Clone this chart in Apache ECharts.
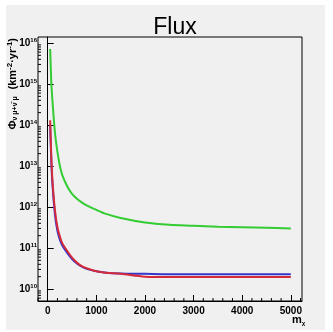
<!DOCTYPE html>
<html>
<head>
<meta charset="utf-8">
<script src="https://cdn.jsdelivr.net/npm/echarts@6/dist/echarts.min.js"></script>
<style>
  html, body { margin: 0; padding: 0; background: #fff; }
  #chart { width: 333px; height: 332px; }
</style>
</head>
<body>
<div id="chart"></div>
<script>
// masses (x) and fluxes
const masses = [50, 75, 100, 150, 200, 250, 300, 400, 500, 600, 700, 800, 1000, 1200, 1500, 2000, 2500, 3000, 3500, 4000, 4500, 5000]
const fluxGreen = [7.1e15, 1.0e15, 3.5e14, 6.3e13, 2.2e13, 1.0e13, 6.0e12, 3.2e12, 2.1e12, 1.6e12, 1.3e12, 1.1e12, 8.5e11, 6.8e11, 5.4e11, 4.2e11, 3.7e11, 3.5e11, 3.3e11, 3.2e11, 3.1e11, 3.0e11]
const fluxBlue = [1.0e14, 1.2e13, 3.2e12, 6.3e11, 2.6e11, 1.6e11, 1.15e11, 7.6e10, 5.4e10, 4.2e10, 3.5e10, 3.1e10, 2.7e10, 2.5e10, 2.4e10, 2.35e10, 2.3e10, 2.3e10, 2.3e10, 2.3e10, 2.3e10, 2.3e10]
const fluxRed = [1.3e14, 1.5e13, 4.0e12, 8.0e11, 3.2e11, 1.9e11, 1.3e11, 8.5e10, 5.8e10, 4.4e10, 3.6e10, 3.2e10, 2.7e10, 2.5e10, 2.35e10, 2.0e10, 1.95e10, 1.95e10, 1.95e10, 1.95e10, 1.95e10, 1.95e10]
const xTicks = [0, 1000, 2000, 3000, 4000, 5000]
const decades = [9, 10, 11, 12, 13, 14, 15]

const X_MIN = -200
const X_MAX = 5230
const Y_MIN = 5.1e9
const Y_MAX = 1.4e16
const FONT = "'Liberation Sans', Arial, sans-serif"

const pairs = (ys) => masses.map((m, i) => [m, ys[i]])

// minor ticks 2..9 x 10^n on the log axis
const yMinor = []
decades.forEach(d => {
  for (let k = 2; k <= 9; k++) {
    const v = k * Math.pow(10, d)
    if (v > Y_MIN && v < Y_MAX) yMinor.push([X_MIN, v])
  }
})
// minor ticks every 200 on the x axis
const xMinor = []
for (let m = -200; m <= 5200; m += 200) {
  if (m % 1000 !== 0) xMinor.push([m, Y_MIN])
}

const tickSeries = (name, data, dx, dy) => ({
  name, type: 'custom', silent: true, data,
  renderItem: (params, api) => {
    const p = api.coord([api.value(0), api.value(1)])
    return {
      type: 'line',
      shape: { x1: p[0], y1: p[1], x2: p[0] + dx, y2: p[1] + dy },
      style: { stroke: '#000', lineWidth: 1 }
    }
  }
})

const chart = echarts.init(document.getElementById('chart'))

const option = {
  animation: false,
  backgroundColor: '#fff',
  title: {
    text: 'Flux',
    left: 170,
    top: 11,
    textAlign: 'center',
    textStyle: { fontFamily: FONT, fontSize: 23, fontWeight: 'normal', color: '#000' }
  },
  graphic: [
    {
      type: 'rect', z: -10, silent: true,
      shape: { x: 6, y: 5, width: 319, height: 325 },
      style: { fill: '#f0f0f0' }
    },
    {
      type: 'text', z: 10,
      x: 6, y: 38, rotation: Math.PI / 2,
      style: {
        text: '{b|Φ}{s|ν μ+ν̄ μ}  {b|(km}{u|-2}{b|·yr}{u|-1}{b|)}',
        align: 'right', verticalAlign: 'top',
        rich: {
          b: { fontFamily: FONT, fontSize: 11, fontWeight: 'bold', fill: '#000', lineHeight: 13 },
          s: { fontFamily: FONT, fontSize: 7, fontWeight: 'bold', fill: '#000', verticalAlign: 'bottom' },
          u: { fontFamily: FONT, fontSize: 8, fontWeight: 'bold', fill: '#000', verticalAlign: 'top' }
        }
      }
    },
    {
      type: 'text', z: 10,
      x: 292, y: 313,
      style: {
        text: '{b|m}{s|χ}',
        rich: {
          b: { fontFamily: FONT, fontSize: 11, fontWeight: 'bold', fill: '#000', lineHeight: 13 },
          s: { fontFamily: FONT, fontSize: 6, fontWeight: 'bold', fill: '#000', verticalAlign: 'bottom' }
        }
      }
    }
  ],
  grid: {
    left: 38, top: 37, right: 31, bottom: 31,
    show: true, borderColor: '#000', borderWidth: 1, backgroundColor: 'transparent'
  },
  xAxis: {
    type: 'value',
    min: X_MIN, max: X_MAX,
    axisLine: { onZero: false, lineStyle: { color: '#000', width: 1 } },
    axisTick: { inside: true, length: 6, customValues: xTicks, lineStyle: { color: '#000' } },
    splitLine: { show: false },
    axisLabel: {
      margin: 5, fontFamily: FONT, fontSize: 10, fontWeight: 'bold', color: '#000',
      customValues: xTicks,
      formatter: (v) => String(v)
    }
  },
  yAxis: {
    type: 'log', logBase: 10,
    min: Y_MIN, max: Y_MAX,
    axisLine: { lineStyle: { color: '#000', width: 1 } },
    axisTick: { inside: true, length: 6, lineStyle: { color: '#000' } },
    splitLine: { show: false },
    axisLabel: {
      margin: 1,
      showMinLabel: false, showMaxLabel: false,
      formatter: (v) => '{b|10}{s|' + Math.round(Math.log10(v)) + '}',
      rich: {
        b: { fontFamily: FONT, fontSize: 10, fontWeight: 'bold', color: '#000', lineHeight: 12 },
        s: { fontFamily: FONT, fontSize: 6, fontWeight: 'bold', color: '#000', verticalAlign: 'top', lineHeight: 7 }
      }
    }
  },
  series: [
    tickSeries('yminor', yMinor, 3, 0),
    tickSeries('xminor', xMinor, 0, -3),
    {
      name: 'green', type: 'line', data: pairs(fluxGreen),
      showSymbol: false, smooth: 0.3,
      lineStyle: { color: '#33cc33', width: 2 }
    },
    {
      name: 'blue', type: 'line', data: pairs(fluxBlue),
      showSymbol: false, smooth: 0.3,
      lineStyle: { color: '#3535cc', width: 2 }
    },
    {
      name: 'red', type: 'line', data: pairs(fluxRed),
      showSymbol: false, smooth: 0.3,
      lineStyle: { color: '#d42a3a', width: 2 }
    }
  ]
}

chart.setOption(option)
</script>
</body>
</html>
